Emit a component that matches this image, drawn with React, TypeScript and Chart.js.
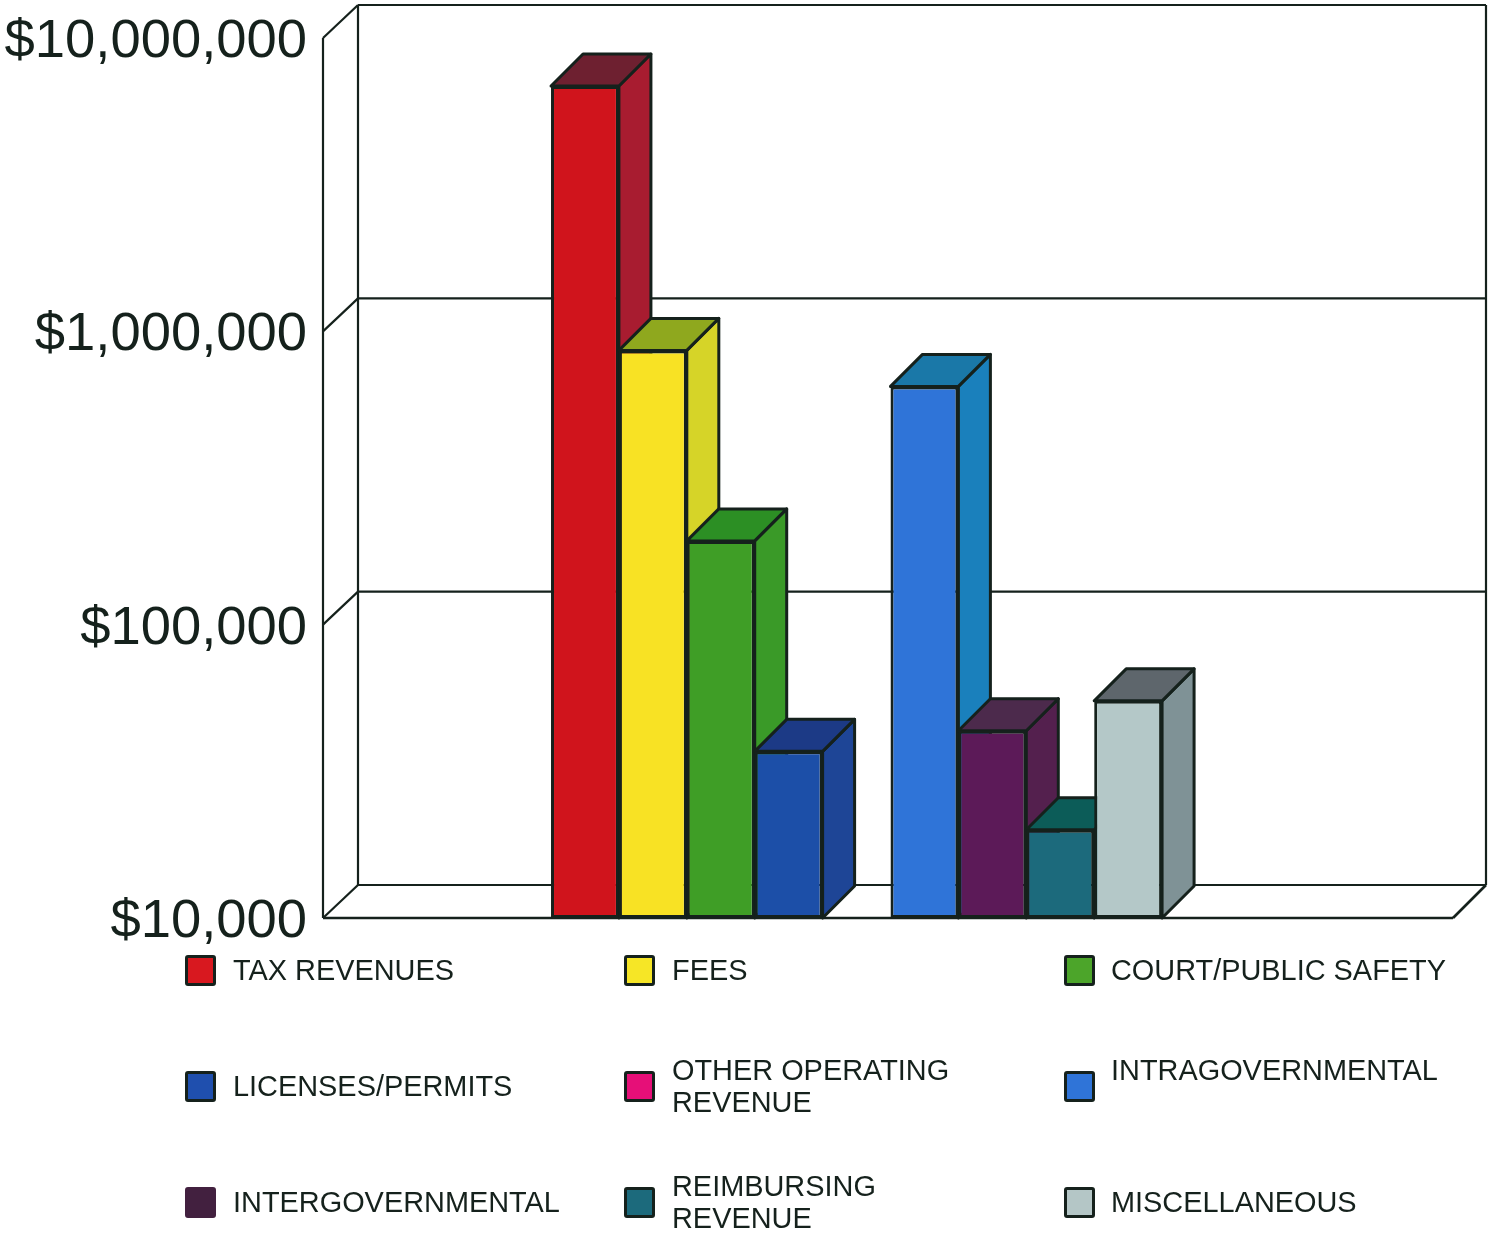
import React, { useEffect, useRef } from "react";
import { Chart, registerables } from "chart.js";

Chart.register(...registerables);

const seriesNames = [
  "TAX REVENUES",
  "FEES",
  "COURT/PUBLIC SAFETY",
  "LICENSES/PERMITS",
  "OTHER OPERATING REVENUE",
  "INTRAGOVERNMENTAL",
  "INTERGOVERNMENTAL",
  "REIMBURSING REVENUE",
  "MISCELLANEOUS",
];
const legendLines = [
  ["TAX REVENUES"],
  ["FEES"],
  ["COURT/PUBLIC SAFETY"],
  ["LICENSES/PERMITS"],
  ["OTHER OPERATING", "REVENUE"],
  ["INTRAGOVERNMENTAL"],
  ["INTERGOVERNMENTAL"],
  ["REIMBURSING", "REVENUE"],
  ["MISCELLANEOUS"],
];
const seriesValues = [6860000, 861000, 193000, 37000, null, 649000, 43500, 20000, 55000];
const frontColors = ["#d0141c", "#f8e224", "#3f9e26", "#1c4fa8", "#e60f78", "#2f74d8", "#5c1a58", "#1c6a7c", "#b4c8c8"];
const sideColors = ["#a81c30", "#d6d428", "#3a9a28", "#1e4596", "#b00c5c", "#1a80bc", "#54204e", "#10606a", "#7f9296"];
const topColors = ["#6e2030", "#8fa81e", "#2c8f24", "#1c3a86", "#800c44", "#1a78a8", "#4c2a4c", "#0c5c58", "#5e666c"];
const swatchColors = ["#d8181f", "#f6e626", "#4ca52a", "#1f4fae", "#e60f78", "#2f74d8", "#42203f", "#1c6a7c", "#b4c6c6"];
const tickValues = [10000, 100000, 1000000, 10000000];

const INK = "#15211c";
const BAR_DEPTH = 32;
const FRAME_LEFT = 323;
const FRAME_RIGHT = 1453;
const BACK_LEFT = 358;
const BACK_RIGHT = 1486;
const WALL_RISE = 33;

function polygon(ctx: CanvasRenderingContext2D, pts: number[][], fill?: string) {
  ctx.beginPath();
  pts.forEach(([x, y], i) => (i ? ctx.lineTo(x, y) : ctx.moveTo(x, y)));
  ctx.closePath();
  if (fill) {
    ctx.fillStyle = fill;
    ctx.fill();
  }
  ctx.stroke();
}

function line(ctx: CanvasRenderingContext2D, x0: number, y0: number, x1: number, y1: number) {
  ctx.beginPath();
  ctx.moveTo(x0, y0);
  ctx.lineTo(x1, y1);
  ctx.stroke();
}

// Box frame behind the bars; every level comes from the value axis.
const wallsPlugin = {
  id: "walls",
  beforeDatasetsDraw(chart: any) {
    const { ctx } = chart;
    const y = chart.scales.y;
    const bottom = y.getPixelForValue(tickValues[0]);
    const top = y.getPixelForValue(tickValues[tickValues.length - 1]);
    ctx.save();
    ctx.strokeStyle = INK;
    ctx.lineWidth = 2.2;
    ctx.lineJoin = "miter";
    tickValues.forEach((v) => {
      const py = y.getPixelForValue(v);
      line(ctx, FRAME_LEFT, py, BACK_LEFT, py - WALL_RISE);
      line(ctx, BACK_LEFT, py - WALL_RISE, BACK_RIGHT, py - WALL_RISE);
    });
    line(ctx, FRAME_LEFT, top, FRAME_LEFT, bottom);
    line(ctx, BACK_LEFT, top - WALL_RISE, BACK_LEFT, bottom - WALL_RISE);
    line(ctx, BACK_RIGHT, top - WALL_RISE, BACK_RIGHT, bottom - WALL_RISE);
    ctx.lineWidth = 2.6;
    line(ctx, FRAME_LEFT, bottom, FRAME_RIGHT, bottom);
    line(ctx, FRAME_RIGHT, bottom, BACK_RIGHT, bottom - WALL_RISE);
    ctx.restore();
  },
  // The library would paint the last dataset first; the boxes need left-to-right.
  beforeDatasetDraw() {
    return false;
  },
  afterDatasetsDraw(chart: any) {
    const { ctx } = chart;
    ctx.save();
    ctx.strokeStyle = INK;
    ctx.lineWidth = 3;
    ctx.lineJoin = "round";
    seriesNames.forEach((_, i) => {
      const bar = chart.getDatasetMeta(i).data[0];
      if (!bar || seriesValues[i] === null) return;
      const { x, y, base, width } = bar;
      const left = x - width / 2;
      const right = x + width / 2;
      polygon(
        ctx,
        [[right, y], [right + BAR_DEPTH, y - BAR_DEPTH], [right + BAR_DEPTH, base - BAR_DEPTH], [right, base]],
        sideColors[i],
      );
      polygon(
        ctx,
        [[left, y], [left + BAR_DEPTH, y - BAR_DEPTH], [right + BAR_DEPTH, y - BAR_DEPTH], [right, y]],
        topColors[i],
      );
      bar.draw(ctx);
    });
    ctx.restore();
  },
};

const legendColumns = [185, 624, 1064];
const legendRows = [970, 1086, 1202];

function LegendEntry({ index }: { index: number }) {
  const col = index % 3;
  const row = Math.floor(index / 3);
  const lines = legendLines[index];
  const cy = legendRows[row];
  // The wrapped entries and INTRAGOVERNMENTAL start one line above the swatch centre.
  const textTop = lines.length > 1 || index === 5 ? cy - 32 : cy - 16;
  return (
    <>
      <div
        style={{
          position: "absolute",
          left: legendColumns[col],
          top: cy - 15,
          width: 31,
          height: 31,
          boxSizing: "border-box",
          background: swatchColors[index],
          border: `3px solid ${index === 6 ? swatchColors[index] : INK}`,
          borderRadius: 3,
        }}
      />
      <div
        style={{
          position: "absolute",
          left: legendColumns[col] + (col === 2 ? 47 : 48),
          top: textTop,
          whiteSpace: "nowrap",
          font: "28.9px/32px 'Liberation Sans', Arial, sans-serif",
          color: INK,
        }}
      >
        {lines.map((l) => (
          <div key={l}>{l}</div>
        ))}
      </div>
    </>
  );
}

export default function App() {
  const canvasRef = useRef<HTMLCanvasElement>(null);

  useEffect(() => {
    const chart = new Chart(canvasRef.current!, {
      type: "bar",
      data: {
        labels: ["Revenue"],
        datasets: [
          ...seriesNames.map((name, i) => ({
            label: name,
            data: [seriesValues[i]],
            backgroundColor: frontColors[i],
            borderColor: INK,
            borderWidth: 3,
            borderSkipped: false,
          })),
          // Empty tenth slot that keeps the group off-centre to the left.
          { label: "", data: [null] },
        ],
      },
      options: {
        responsive: false,
        animation: false,
        events: [],
        layout: { padding: { top: 38, right: 31, bottom: 315, left: 0 } },
        datasets: { bar: { categoryPercentage: 0.5982, barPercentage: 1 } },
        plugins: { legend: { display: false }, tooltip: { enabled: false }, title: { display: false } },
        scales: {
          x: { display: false },
          y: {
            type: "logarithmic",
            min: tickValues[0],
            max: tickValues[tickValues.length - 1],
            border: { display: false },
            grid: { display: false, drawTicks: false },
            afterFit(scale: any) {
              scale.width = FRAME_LEFT;
              scale.paddingTop = 0;
              scale.paddingBottom = 0;
            },
            afterBuildTicks(scale: any) {
              scale.ticks = tickValues.map((value) => ({ value, major: true }));
            },
            ticks: {
              autoSkip: false,
              padding: 16,
              labelOffset: 4,
              color: INK,
              font: { family: "'Liberation Sans', Arial, sans-serif", size: 54.4 },
              callback: (v: any) => "$" + Number(v).toLocaleString("en-US"),
            },
          },
        },
      },
      plugins: [wallsPlugin],
    } as any);
    return () => chart.destroy();
  }, []);

  return (
    <div style={{ position: "absolute", left: 0, top: 0, width: 1489, height: 1233, background: "#fff", overflow: "hidden" }}>
      <canvas ref={canvasRef} width={1489} height={1233} style={{ display: "block" }} />
      {seriesNames.map((_, i) => (
        <LegendEntry key={i} index={i} />
      ))}
    </div>
  );
}
